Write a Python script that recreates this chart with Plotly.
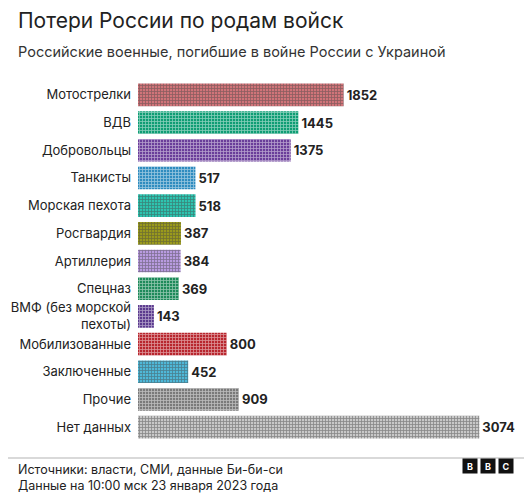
import plotly.graph_objects as go

categories = ["Мотострелки", "ВДВ", "Добровольцы", "Танкисты", "Морская пехота", "Росгвардия",
              "Артиллерия", "Спецназ", "ВМФ (без морской<br>пехоты)", "Мобилизованные",
              "Заключенные", "Прочие", "Нет данных"]
values = [1852, 1445, 1375, 517, 518, 387, 384, 369, 143, 800, 452, 909, 3074]
colors = ["#d07479", "#0f9d74", "#6a3d9a", "#2f8cbf", "#2ec4b0", "#9a9a1c",
          "#b89be0", "#1e8a5a", "#5b3a8e", "#b8262e", "#4fb8d8", "#7a7a7a", "#c8c8c8"]

fig = go.Figure(go.Bar(
    y=categories, x=values, orientation="h",
    marker=dict(color=colors, line=dict(width=0),
                pattern=dict(shape="+", fgcolor="white", size=3, solidity=0.45, fillmode="overlay")),
    width=0.82,
    text=[f"<b>{v}</b>" for v in values], textposition="outside",
    textfont=dict(size=13, color="#222", family="Inter"), cliponaxis=False,
))
fig.update_layout(
    width=532, height=493, paper_bgcolor="white", plot_bgcolor="white",
    margin=dict(l=130, r=0, t=73, b=60), showlegend=False,
    font=dict(family="Inter", color="#222"),
    xaxis=dict(range=[0, 3620], visible=False),
    yaxis=dict(autorange="reversed", showgrid=False, ticks="", ticklabelstandoff=6,
               tickfont=dict(size=13, color="#222")),
    annotations=[
        dict(text="Потери России по родам войск", x=8, y=13, showarrow=False,
             font=dict(size=21, color="#222"), xanchor="left", yanchor="middle"),
        dict(text="Российские военные, погибшие в войне России с Украиной", x=8, y=43, showarrow=False,
             font=dict(size=14.5, color="#333"), xanchor="left", yanchor="middle"),
        dict(text="Источники: власти, СМИ, данные Би-би-си<br>Данные на 10:00 мск 23 января 2023 года",
             x=8, y=469, showarrow=False, font=dict(size=12.5, color="#222"), xanchor="left", yanchor="middle", align="left"),
        dict(text="<b>B</b>", x=470, y=466, showarrow=False, font=dict(size=9, color="white"), bgcolor="#111", width=12, height=12),
        dict(text="<b>B</b>", x=488, y=466, showarrow=False, font=dict(size=9, color="white"), bgcolor="#111", width=12, height=12),
        dict(text="<b>C</b>", x=506, y=466, showarrow=False, font=dict(size=9, color="white"), bgcolor="#111", width=12, height=12),
    ],
)
for a in fig.layout.annotations:
    a.xref = "paper"; a.yref = "paper"
    a.x = (a.x - 130) / (532 - 130)
    a.y = 1 - (a.y - 73) / (493 - 73 - 60)
fig.add_shape(type="line", xref="paper", yref="paper", x0=-130/402, x1=1, y0=1-(450-73)/360, y1=1-(450-73)/360,
              line=dict(color="#ccc", width=1.5))
fig.write_html("out.html")
